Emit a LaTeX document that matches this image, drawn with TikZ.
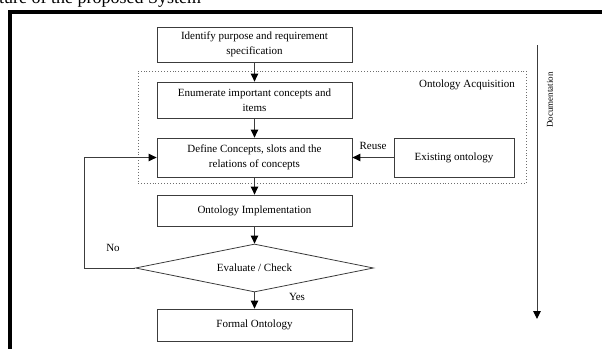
\documentclass[tikz,border=0pt]{standalone}
\usepackage{fontspec}
\setmainfont{Liberation Serif}
\usetikzlibrary{arrows.meta,shapes.geometric}

\definecolor{edgegray}{HTML}{3C3C3C}
\definecolor{dotgray}{HTML}{6E6E6E}

\tikzset{
  stepbox/.style={draw=edgegray, line width=0.8pt, minimum width=195pt,
    align=center, inner sep=2pt, font=\fontsize{11}{14.5}\selectfont},
  decision/.style={draw=edgegray, line width=0.8pt, diamond, aspect=5,
    minimum width=238pt, minimum height=48pt, inner sep=0pt,
    font=\fontsize{11}{14}\selectfont},
  flow/.style={draw=edgegray, line width=1pt,
    -{Triangle[length=8pt,width=7.5pt,color=black]}},
  tag/.style={font=\fontsize{11}{14}\selectfont, inner sep=0pt},
  phase/.style={draw=dotgray, line width=0.9pt, dotted}
}

\begin{document}
\begin{tikzpicture}[x=1pt,y=-1pt]
\useasboundingbox (0,0) rectangle (602,348);

% caption running off the top edge
\node[anchor=base west, inner sep=0pt, font=\fontsize{18}{20}\selectfont]
  (caption) at (-1,3) {ture of the proposed System};

% heavy frame
\draw[line width=4pt, line cap=butt] (9.5,360) -- (9.5,12) -- (610,12);

% ontology acquisition phase
\node[phase, minimum width=388pt, minimum height=112pt, inner sep=0pt]
  (acq) at (332,127) {};
\node[tag, anchor=east] (acqlabel) at (515,85) {Ontology Acquisition};

% process steps
\node[stepbox, minimum height=35pt] (purpose) at (254.5,44.5)
  {Identify purpose and requirement\\specification};
\node[stepbox, minimum height=36pt] (enum) at (254.5,100)
  {Enumerate important concepts and\\items};
\node[stepbox, minimum height=39pt] (define) at (254.5,157.5)
  {Define Concepts, slots and the\\relations of concepts};
\node[stepbox, minimum width=120pt, minimum height=39pt] (exist) at (454,157.5)
  {Existing ontology};
\node[stepbox, minimum height=31pt] (impl) at (254.5,210.5)
  {Ontology Implementation};
\node[decision] (eval) at (254.5,268) {Evaluate / Check};
\node[stepbox, minimum height=32pt] (formal) at (254.5,325)
  {Formal Ontology};

% connectors
\draw[flow] (purpose) -- (enum);
\draw[flow] (enum) -- (define);
\draw[flow] (define) -- (impl);
\draw[flow] (impl) -- (eval);
\draw[flow] (eval) -- (formal);
\draw[flow] (exist) -- (define);
\coordinate (loop) at (84,268);
\draw[flow] (eval.west) -- (loop) |- (define.west);

% branch labels
\node[tag] (reuse) at (373,146) {Reuse};
\node[tag] (no) at (113,248) {No};
\node[tag] (yes) at (297,297) {Yes};

% documentation runs alongside every step
\coordinate (docstart) at (537,45);
\coordinate (docend) at (537,319);
\draw[flow] (docstart) -- (docend);
\node[tag, rotate=90, font=\fontsize{9}{10}\selectfont] (doclabel)
  at (550,100) {Documentation};
\end{tikzpicture}
\end{document}
